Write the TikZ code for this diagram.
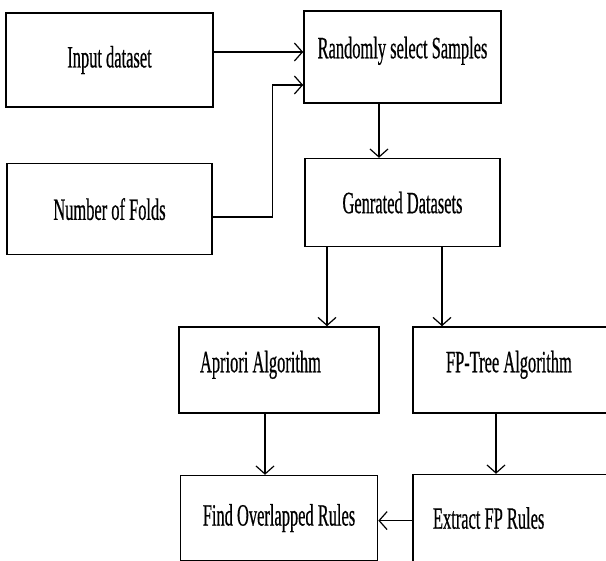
\documentclass[tikz,border=0pt]{standalone}
\usepackage{fontspec}
\setmainfont[FakeStretch=0.53, FakeBold=0.5]{Liberation Serif}
\usetikzlibrary{arrows.meta, positioning}

\begin{document}
\begin{tikzpicture}[%
    x=1pt, y=-1pt,
    >={Straight Barb[length=8pt,width=18pt]},
    every node/.style={%
      font=\fontsize{31}{34}\selectfont,
      text=black
    },
    block/.style={draw=black, line width=1.6pt, inner sep=0pt},
    lefttext/.style={text width=#1, align=left,
      execute at begin node={\spaceskip=0pt\xspaceskip=0pt\relax}},
    flow/.style={->, line width=1.2pt}
  ]

  \clip (0,0) rectangle (606,561);

  % Left inputs
  \node[block, minimum width=207pt, minimum height=94pt] (input) at (109.5,60) {Input dataset};
  \node[block, minimum width=205pt, minimum height=91pt, below=55pt of input]
    (folds)
    {Number of Folds};

  % Sampling
  \node[block, minimum width=197pt, minimum height=92pt, text depth=19pt] (rand) at (402.5,57)
    {Randomly select Samples};
  \node[block, minimum width=195pt, minimum height=88pt, below=54pt of rand]
    (gen)
    {Genrated Datasets};

  % Algorithms
  \node[block, minimum height=86pt, inner xsep=21pt, lefttext=158pt, text depth=17pt]
    (apriori) at (279,370)
    {Apriori Algorithm};
  \node[block, minimum height=86pt, inner xsep=33pt, lefttext=164pt, text depth=17pt]
    (fptree) at (528,370)
    {FP-Tree Algorithm};

  % Rules
  \node[block, minimum width=197pt, minimum height=85pt, below=61pt of apriori]
    (find)
    {Find Overlapped Rules};
  \node[block, minimum height=87pt, inner xsep=20pt, lefttext=190pt, below=60pt of fptree]
    (extract)
    {Extract FP Rules};

  % Arrows
  \draw[flow] ([yshift=8pt]input.east) -- ([yshift=5pt]rand.west);
  \draw[flow] ([yshift=-8pt]folds.east) -- ++(60,0) |- ([yshift=-28pt]rand.west);
  \draw[flow] ([xshift=-23.5pt]rand.south) -- ([xshift=-23.5pt]rand.south |- gen.north);
  \draw[flow] ([xshift=-75.5pt]gen.south) -- ([xshift=-75.5pt]gen.south |- apriori.north);
  \draw[flow] ([xshift=39.5pt]gen.south) -- ([xshift=39.5pt]gen.south |- fptree.north);
  \draw[flow] ([xshift=-14pt]apriori.south) -- ([xshift=-14pt]apriori.south |- find.north);
  \draw[flow] ([xshift=-32pt]fptree.south) -- ([xshift=-32pt]fptree.south |- extract.north);
  \draw[flow] ([yshift=-2.5pt]extract.west) -- ([yshift=-2.5pt]extract.west -| find.east);

\end{tikzpicture}
\end{document}
